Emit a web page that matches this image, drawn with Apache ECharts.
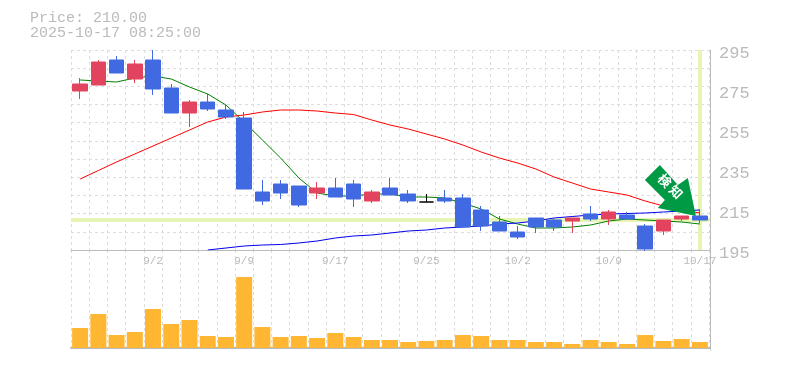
<!DOCTYPE html>
<html>
<head>
<meta charset="utf-8">
<style>
html, body { margin: 0; padding: 0; background: #fff; }
#chart { width: 785px; height: 370px; }
</style>
<script src="https://cdn.jsdelivr.net/npm/echarts@6/dist/echarts.min.js"></script>
</head>
<body>
<div id="chart"></div>
<script>
// daily candles
var dates = ['8/27','8/28','8/29','9/1','9/2','9/3','9/4','9/5','9/8','9/9','9/10','9/11','9/12','9/16','9/17','9/18','9/19','9/22','9/24','9/25','9/26','9/29','9/30','10/1','10/2','10/3','10/6','10/7','10/8','10/9','10/10','10/14','10/15','10/16','10/17'];
var opens  = [274.5,277.5,290,280.5,290,276,263.5,269,265,261,224,228,227,223.5,226,228,219.5,226,223,219,221,221,215,209,204,211,210,209.5,213,210.5,212.5,207,204.5,210.5,212];
var closes = [278,289,283.5,288,275.5,263.5,269,265.5,261.5,225.5,219.5,223.5,217.5,226,221.5,220.5,224,222.5,219.5,219,219.5,206.5,207,204.5,201.5,206.5,206.5,211,210.5,214,210.5,195.5,210,212,210];
var lows   = [270.5,277.5,283.5,278.5,272.5,263.5,256.5,264.5,260.5,225.5,217.5,220.5,216.5,220.5,221.5,216.5,218.5,222.5,218.5,219,218.5,206.5,204.5,204.5,200.5,203.5,204.5,203.5,209.5,207.5,210.5,194.5,202.5,209.5,208.5];
var highs  = [281,290,292,290,295,278,270,273,267.5,264,230,230,227,229,231,230,225,231,225,223,225,223,217,212,207,211,211,211,217,215,214,208,210,212,215.5];
var maShort = [280,279.5,279,281,282,280.5,276.5,273,267.5,259,250,241,231,223.5,222,222,223,223,221.5,221.5,221,218.5,215.5,210.5,208,206,206,206.5,207.5,209.5,210.5,210,209.5,209,208];
var maMid   = [230.5,234.75,239,243,247,251,255,259,261.5,262.5,264,265,265,264.5,263.5,262.75,260,257.5,255.5,253,250.5,247.5,244,241,238.5,235.5,231.5,228.5,225.5,224,222.5,219.5,217,215,213.5];
var maLong  = [null,null,null,null,null,null,null,195,196,197,197.5,197.75,198.5,199.5,201,202,202.5,203.5,204.5,205,206,206.5,207,208,208.5,209.5,211,211.75,212.5,213,213.25,213.5,214,214.5,215];
var volumes = [20,34,13,16,39,24,28,12,11,71,21,11,12,10,15,11,8,8,6,7,8,13,12,8,8,6,6,4,8,6,4,13,7,9,6];
var priceLabels = ['195','215','235','255','275','295'];
var lastPrice = 210;

var grayText = '#bbbbbb';
var gridLine = { show: true, lineStyle: { color: '#dddddd', type: [3, 3], width: 1 } };
var monoFont = '"Liberation Mono", monospace';

var candles = [];
for (var i = 0; i < dates.length; i++) {
	candles.push([opens[i], closes[i], lows[i], highs[i]]);
}

var chart = echarts.init(document.getElementById('chart'));

chart.setOption({
	animation: false,
	backgroundColor: '#ffffff',
	title: {
		text: 'Price: 210.00\n2025-10-17 08:25:00',
		left: 25,
		top: 6,
		textStyle: { color: grayText, fontFamily: monoFont, fontSize: 15, fontWeight: 'normal', lineHeight: 15 }
	},
	grid: [
		{ left: 71, width: 638, top: 50, height: 200 },
		{ left: 71, width: 638, top: 250, height: 100 }
	],
	xAxis: [
		{
			type: 'category', gridIndex: 0, data: dates,
			axisLine: { show: true, lineStyle: { color: '#bbbbbb' } },
			axisTick: { show: false },
			axisLabel: {
				color: grayText, fontFamily: monoFont, fontSize: 11, margin: 6, hideOverlap: false,
				interval: function (index) { return index % 5 === 4; }
			},
			splitLine: Object.assign({ interval: 0 }, gridLine)
		},
		{
			type: 'category', gridIndex: 1, data: dates,
			axisLine: { show: true, lineStyle: { color: '#bbbbbb', width: 2 } },
			axisTick: { show: false },
			axisLabel: { show: false },
			splitLine: Object.assign({ interval: 0 }, gridLine)
		}
	],
	yAxis: [
		// price scale, drawn with no ink of its own
		{ type: 'value', gridIndex: 0, min: 195, max: 295, axisLine: { show: false }, axisTick: { show: false }, axisLabel: { show: false }, splitLine: { show: false } },
		// 11 dotted rows, they do not line up with the price labels
		{ type: 'value', gridIndex: 0, min: 0, max: 11, interval: 1, position: 'left', axisLine: { show: false }, axisTick: { show: false }, axisLabel: { show: false }, splitLine: gridLine },
		// price labels + right border, the small lineHeight pushes the text below its tick
		{
			type: 'value', gridIndex: 0, min: 0, max: priceLabels.length - 1, interval: 1, position: 'right', offset: 1,
			axisLine: { show: true, lineStyle: { color: '#bbbbbb' } },
			axisTick: { show: false },
			splitLine: { show: false },
			axisLabel: {
				color: grayText, fontFamily: monoFont, fontSize: 17, margin: 9, verticalAlign: 'top', lineHeight: 6,
				formatter: function (v) { return priceLabels[v]; }
			}
		},
		// volume, min sits below zero because the bars float over the axis line
		{
			type: 'value', gridIndex: 1, min: -2, max: 98, position: 'right', offset: 1,
			axisLine: { show: true, lineStyle: { color: '#bbbbbb' } },
			axisTick: { show: false }, axisLabel: { show: false }, splitLine: { show: false }
		}
	],
	series: [
		{
			name: 'guide', type: 'line', xAxisIndex: 0, yAxisIndex: 0, data: [], z: 1,
			markLine: {
				silent: true, symbol: 'none', z: 1, animation: false, label: { show: false },
				lineStyle: { color: '#e6f5b4', type: 'solid', width: 4 },
				data: [{ yAxis: lastPrice }, { xAxis: dates[dates.length - 1] }]
			}
		},
		{ name: 'MA short', type: 'line', xAxisIndex: 0, yAxisIndex: 0, data: maShort, showSymbol: false, z: 2, lineStyle: { color: '#008000', width: 1 } },
		{ name: 'MA mid', type: 'line', xAxisIndex: 0, yAxisIndex: 0, data: maMid, showSymbol: false, z: 2, lineStyle: { color: '#ff0000', width: 1 } },
		{ name: 'MA long', type: 'line', xAxisIndex: 0, yAxisIndex: 0, data: maLong, showSymbol: false, z: 2, lineStyle: { color: '#0000ee', width: 1 } },
		{
			name: 'price', type: 'candlestick', xAxisIndex: 0, yAxisIndex: 0, data: candles, barWidth: 15, z: 3, clip: true,
			itemStyle: {
				color: '#e2445f', color0: '#4169e1',
				borderColor: '#e2445f', borderColor0: '#4169e1', borderColorDoji: '#000000', borderWidth: 1
			},
			markPoint: {
				silent: true, z: 10, animation: false,
				data: [{
					coord: [dates[dates.length - 1], 212],
					symbol: 'path://M15 0 L0 15 L20 35 L13 43 L51 51 L43 13 L33 20 Z',
					symbolSize: [51, 51],
					symbolOffset: [-29.5, -25.5],
					itemStyle: { color: '#009944' },
					label: {
						show: true, position: 'inside', formatter: '検 知', rotate: -45, offset: [-3, -3],
						color: '#ffffff', fontFamily: '"Noto Sans CJK JP"', fontWeight: 'bold', fontSize: 13
					}
				}]
			}
		},
		{ name: 'volume', type: 'bar', xAxisIndex: 1, yAxisIndex: 3, data: volumes, barWidth: 16, itemStyle: { color: '#ffb733' } }
	]
});
</script>
</body>
</html>
